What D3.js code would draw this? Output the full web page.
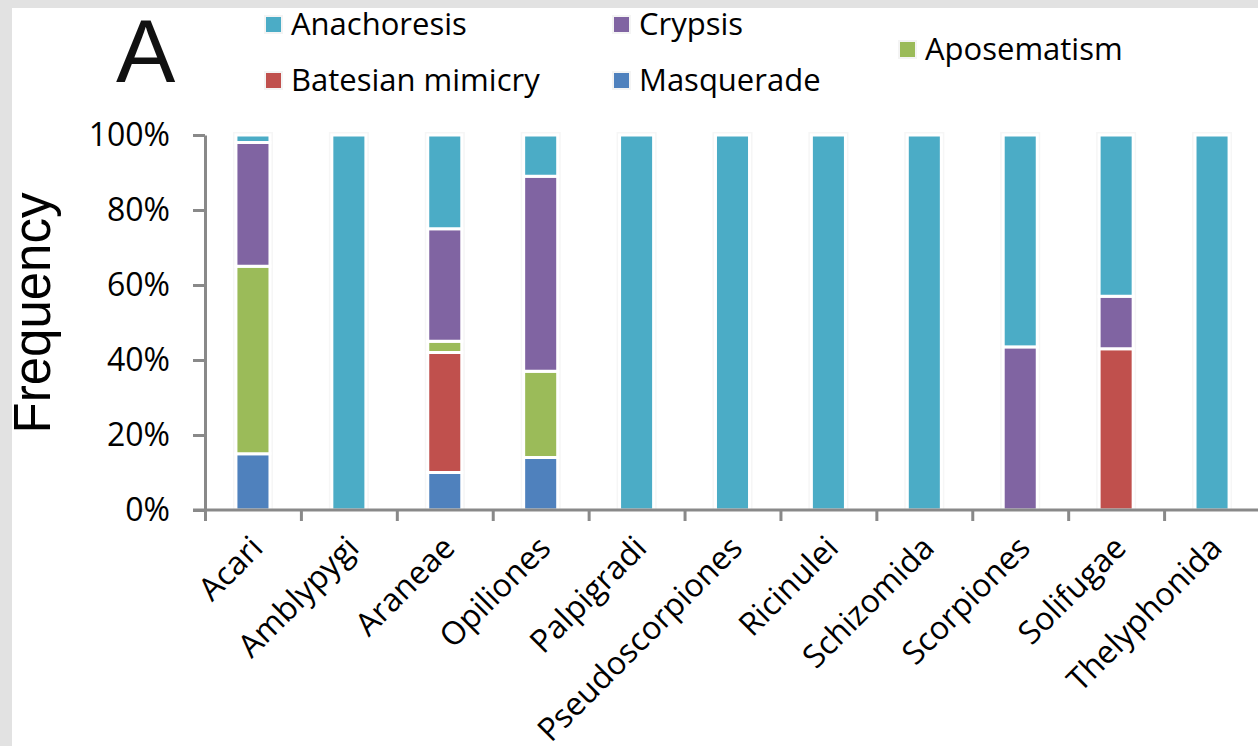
<!DOCTYPE html>
<html>
<head>
<meta charset="utf-8">
<script src="https://cdn.jsdelivr.net/npm/d3@7"></script>
<style>
  html, body { margin: 0; padding: 0; background: #fff; }
  svg { display: block; }
  .axis path, .axis line { stroke: #898989; stroke-width: 3; }
  .axis text { font-family: "Open Sans", sans-serif; fill: #000; }
</style>
</head>
<body>
<div class="chart"></div>
<script>
// categories and series (fractions of each order)
let categories = ["Acari", "Amblypygi", "Araneae", "Opiliones", "Palpigradi", "Pseudoscorpiones",
	"Ricinulei", "Schizomida", "Scorpiones", "Solifugae", "Thelyphonida"];
let masquerade  = [0.15, 0, 0.10, 0.14, 0, 0, 0, 0, 0, 0, 0];
let batesian    = [0, 0, 0.32, 0, 0, 0, 0, 0, 0, 0.43, 0];
let aposematism = [0.50, 0, 0.03, 0.23, 0, 0, 0, 0, 0, 0, 0];
let crypsis     = [0.33, 0, 0.30, 0.52, 0, 0, 0, 0, 0.435, 0.14, 0];
let anachoresis = [0.02, 1, 0.25, 0.11, 1, 1, 1, 1, 0.565, 0.43, 1];
let yTicks = [0, 0.2, 0.4, 0.6, 0.8, 1];

let seriesNames = ["Masquerade", "Batesian mimicry", "Aposematism", "Crypsis", "Anachoresis"];
let seriesValues = [masquerade, batesian, aposematism, crypsis, anachoresis];
let colors = {
	"Anachoresis": "#4BACC6",
	"Batesian mimicry": "#C0504D",
	"Crypsis": "#8064A2",
	"Masquerade": "#4F81BD",
	"Aposematism": "#9BBB59"
};

let width = 1258, height = 746;

let svg = d3.select(".chart")
	.append("svg")
	.attr("width", width)
	.attr("height", height);

// grey frame at top/left
svg.append("rect").attr("width", width).attr("height", height).attr("fill", "#e2e2e2");
svg.append("rect").attr("x", 12).attr("y", 8).attr("width", width - 12).attr("height", height - 8).attr("fill", "#fff");

let plotLeft = 205, plotRight = 1260, plotTop = 135, plotBottom = 510;

let x = d3.scaleBand().domain(categories).range([plotLeft, plotRight]).paddingInner(0.645).paddingOuter(0.3225);
let y = d3.scaleLinear().domain([0, 1]).range([plotBottom, plotTop]);

// build table rows for d3.stack
let rows = categories.map((c, i) => {
	let row = { cat: c };
	seriesNames.forEach((s, j) => row[s] = seriesValues[j][i]);
	return row;
});
let stacked = d3.stack().keys(seriesNames)(rows);

// faint outline behind each bar
svg.append("g")
	.selectAll("rect")
	.data(rows)
	.enter().append("rect")
	.attr("x", d => x(d.cat) - 3)
	.attr("y", y(1) - 3)
	.attr("width", x.bandwidth() + 6)
	.attr("height", y(0) - y(1) + 3)
	.attr("fill", "#f6f6f6");

svg.append("g")
	.selectAll("g")
	.data(stacked)
	.enter().append("g")
	.attr("fill", d => colors[d.key])
	.selectAll("rect")
	.data(d => d.filter(p => p[1] - p[0] > 0))
	.enter().append("rect")
	.attr("x", d => x(d.data.cat))
	.attr("y", d => y(d[1]))
	.attr("width", x.bandwidth())
	.attr("height", d => y(d[0]) - y(d[1]))
	.attr("stroke", "#fff")
	.attr("stroke-width", 3);

// y axis
let yAxis = svg.append("g")
	.attr("class", "axis")
	.attr("transform", "translate(" + plotLeft + ",0)")
	.call(d3.axisLeft(y).tickValues(yTicks).tickFormat(d3.format(".0%")).tickSize(12).tickSizeOuter(0).tickPadding(23));
yAxis.selectAll("text").attr("font-size", 32);

// x axis: ticks at category boundaries
let xi = d3.scaleLinear().domain([0, categories.length]).range([plotLeft, plotRight]);
let xAxis = svg.append("g")
	.attr("class", "axis")
	.attr("transform", "translate(0," + plotBottom + ")")
	.call(d3.axisBottom(xi).tickValues(d3.range(categories.length + 1)).tickFormat("").tickSize(11).tickSizeOuter(0));
xAxis.select(".domain").attr("d", "M" + (plotLeft - 12) + ",0H" + plotRight);

// rotated category labels
svg.append("g")
	.selectAll("text")
	.data(categories)
	.enter().append("text")
	.attr("transform", d => "translate(" + (x(d) + x.bandwidth() / 2 - 4) + "," + 534 + ") rotate(-45)")
	.attr("text-anchor", "end")
	.attr("dy", "0.7em")
	.attr("font-family", "'Open Sans', sans-serif")
	.attr("font-size", 32)
	.text(d => d);

// y title
svg.append("text")
	.attr("transform", "translate(50,313) rotate(-90)")
	.attr("text-anchor", "middle")
	.attr("font-family", "'Liberation Sans', Arial, sans-serif")
	.attr("font-size", 51)
	.text("Frequency");

// panel letter
svg.append("text")
	.attr("x", 116).attr("y", 82)
	.attr("font-family", "'Liberation Sans', Arial, sans-serif")
	.attr("font-size", 89)
	.attr("fill", "#111")
	.text("A");

// legend
let legendItems = [
	{ name: "Anachoresis", x: 265, y: 24 },
	{ name: "Batesian mimicry", x: 265, y: 80 },
	{ name: "Crypsis", x: 613, y: 24 },
	{ name: "Masquerade", x: 613, y: 80 },
	{ name: "Aposematism", x: 899, y: 49 }
];
let legend = svg.append("g")
	.selectAll("g")
	.data(legendItems)
	.enter().append("g")
	.attr("transform", d => "translate(" + d.x + "," + d.y + ")");
legend.append("rect")
	.attr("x", 0).attr("y", -8)
	.attr("width", 17).attr("height", 17)
	.attr("fill", d => colors[d.name])
	.attr("stroke", "#f4f4f4")
	.attr("stroke-width", 2);
legend.append("text")
	.attr("x", 26)
	.attr("dy", "0.36em")
	.attr("font-family", "'Open Sans', sans-serif")
	.attr("font-size", 31)
	.text(d => d.name);
</script>
</body>
</html>
